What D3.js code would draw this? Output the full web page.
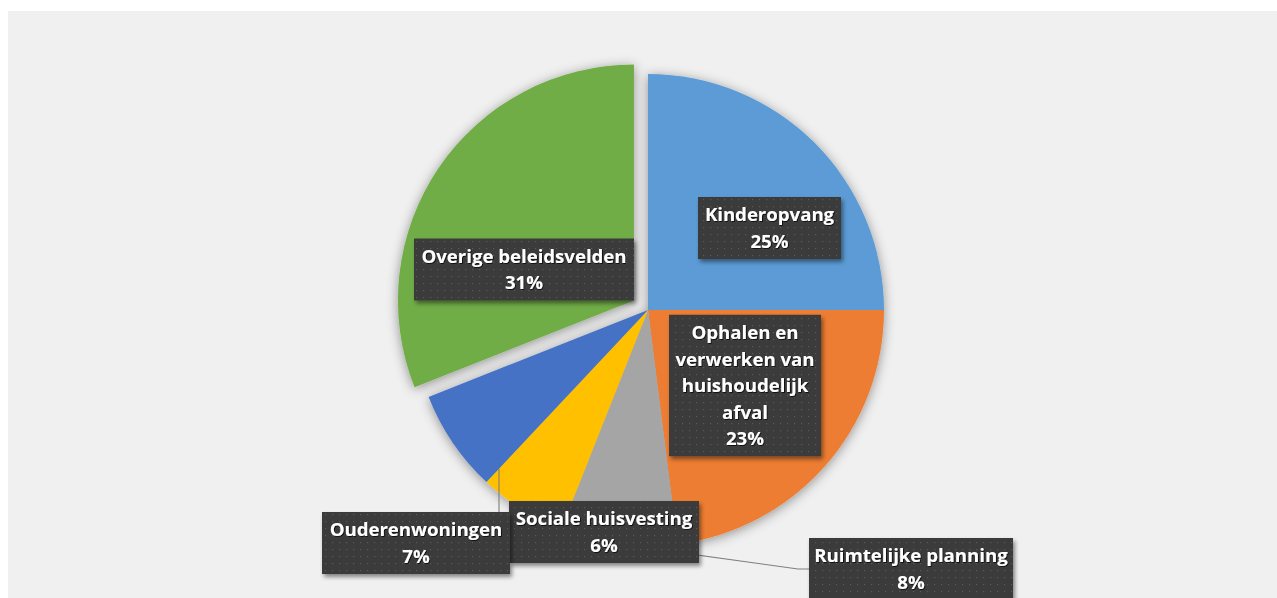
<!DOCTYPE html>
<html><head><meta charset="utf-8">
<script src="https://cdn.jsdelivr.net/npm/d3@7/dist/d3.min.js"></script>
<style>
html,body{margin:0;padding:0;background:#fff;overflow:hidden;}
svg{display:block;}
</style></head><body>
<svg id="chart" width="1277" height="598"></svg>
<script>
// Uitgaven per beleidsveld (aandeel in procenten)
const categories = [
  "Kinderopvang",
  "Ophalen en verwerken van huishoudelijk afval",
  "Ruimtelijke planning",
  "Sociale huisvesting",
  "Ouderenwoningen",
  "Overige beleidsvelden"
];
const values = [25, 23, 8, 6, 7, 31];
const colors = ["#5B9BD5", "#ED7D31", "#A5A5A5", "#FFC000", "#4472C4", "#70AD47"];
const explodedSlices = ["Overige beleidsvelden"];

// ---- layout ----
const W = 1277, H = 598;
const cx = 648, cy = 310, radius = 236, explodeDist = 17;
const fontSize = 18.6, lineH = 26.5, padY = 4.5;

// label boxes: centre and width of each callout
const labelLayout = {
  "Kinderopvang":                                  {x: 769.5, y: 228,   w: 143},
  "Ophalen en verwerken van huishoudelijk afval":  {x: 745,   y: 385.5, w: 152},
  "Ruimtelijke planning":                          {x: 911,   y: 569,   w: 204},
  "Sociale huisvesting":                           {x: 604,   y: 532,   w: 190},
  "Ouderenwoningen":                               {x: 416,   y: 543,   w: 188},
  "Overige beleidsvelden":                         {x: 524,   y: 269.5, w: 220}
};

const svg = d3.select("#chart");
const defs = svg.append("defs");

// soft shadow under the pie
const pf = defs.append("filter").attr("id", "pieShadow")
  .attr("x", "-20%").attr("y", "-20%").attr("width", "140%").attr("height", "140%");
pf.append("feDropShadow").attr("dx", 0).attr("dy", 2).attr("stdDeviation", 6)
  .attr("flood-color", "#000").attr("flood-opacity", 0.4);

// callout box shadow
const bf = defs.append("filter").attr("id", "boxShadow")
  .attr("x", "-20%").attr("y", "-20%").attr("width", "140%").attr("height", "140%");
bf.append("feDropShadow").attr("dx", 2).attr("dy", 3).attr("stdDeviation", 2)
  .attr("flood-color", "#000").attr("flood-opacity", 0.45);

// text shadow
const tf = defs.append("filter").attr("id", "textShadow")
  .attr("x", "-10%").attr("y", "-30%").attr("width", "120%").attr("height", "160%");
tf.append("feDropShadow").attr("dx", 0.8).attr("dy", 0.8).attr("stdDeviation", 0.6)
  .attr("flood-color", "#000").attr("flood-opacity", 0.9);

// dotted texture of the callouts
const pat = defs.append("pattern").attr("id", "dots")
  .attr("patternUnits", "userSpaceOnUse").attr("width", 7).attr("height", 7);
pat.append("rect").attr("width", 7).attr("height", 7).attr("fill", "#3b3b3b");
pat.append("rect").attr("x", 3).attr("y", 3).attr("width", 1.2).attr("height", 1.2).attr("fill", "#5a5a5a");

// plot area background
svg.append("rect").attr("x", 8).attr("y", 11).attr("width", W - 8).attr("height", H - 11)
  .attr("fill", "#f0f0f0");

const data = categories.map((c, i) => ({name: c, value: values[i], color: colors[i]}));
const pie = d3.pie().sort(null).value(d => d.value).startAngle(0).endAngle(2 * Math.PI);
const arcs = pie(data);
const arc = d3.arc().innerRadius(0).outerRadius(radius);

function offsetOf(a) {
  if (!explodedSlices.includes(a.data.name)) return [0, 0];
  const mid = (a.startAngle + a.endAngle) / 2;
  return [Math.sin(mid) * explodeDist, -Math.cos(mid) * explodeDist];
}

const pieG = svg.append("g").attr("transform", `translate(${cx},${cy})`)
  .attr("filter", "url(#pieShadow)");
pieG.selectAll("path").data(arcs).join("path")
  .attr("transform", a => `translate(${offsetOf(a)})`)
  .attr("d", arc)
  .attr("fill", a => a.data.color);

// ---- leader lines ----
const leaderG = svg.append("g").attr("fill", "none").attr("stroke", "#7f7f7f").attr("stroke-width", 1.1);
arcs.forEach(a => {
  const L = labelLayout[a.data.name];
  if (a.data.name === "Ruimtelijke planning") {
    const mid = (a.startAngle + a.endAngle) / 2;
    const p0 = [cx + Math.sin(mid) * radius, cy - Math.cos(mid) * radius];
    const left = L.x - L.w / 2;
    leaderG.append("polyline")
      .attr("points", [p0, [left - 11, L.y], [left, L.y]].map(p => p.join(",")).join(" "));
  }
  if (a.data.name === "Ouderenwoningen") {
    const lx = L.x + 83;
    const ang = a.startAngle;
    const t = (lx - cx) / Math.sin(ang);
    const yTop = cy - t * Math.cos(ang);
    leaderG.append("line").attr("x1", lx).attr("x2", lx)
      .attr("y1", yTop).attr("y2", L.y - 31);
  }
});

// ---- callouts ----
const labelG = svg.append("g");
const measure = svg.append("text").attr("font-family", "'Open Sans', sans-serif")
  .attr("font-weight", 700).attr("font-size", fontSize).attr("visibility", "hidden");
function textWidth(s) { measure.text(s); return measure.node().getComputedTextLength(); }

function wrap(name, maxW) {
  const words = name.split(" ");
  const lines = [];
  let cur = "";
  words.forEach(w => {
    const test = cur ? cur + " " + w : w;
    if (cur && textWidth(test) > maxW) { lines.push(cur); cur = w; }
    else cur = test;
  });
  if (cur) lines.push(cur);
  return lines;
}

arcs.forEach(a => {
  const L = labelLayout[a.data.name];
  const lines = wrap(a.data.name, L.w - 2).concat([a.data.value + "%"]);
  const h = lines.length * lineH + 2 * padY;
  const g = labelG.append("g");
  g.append("rect")
    .attr("x", L.x - L.w / 2).attr("y", L.y - h / 2)
    .attr("width", L.w).attr("height", h)
    .attr("fill", "url(#dots)")
    .attr("filter", "url(#boxShadow)");
  const firstBase = L.y - h / 2 + padY + lineH / 2 + 6.5;
  g.append("text")
    .attr("font-family", "'Open Sans', sans-serif")
    .attr("font-weight", 700).attr("font-size", fontSize)
    .attr("fill", "#ffffff").attr("text-anchor", "middle")
    .attr("filter", "url(#textShadow)")
    .selectAll("tspan").data(lines).join("tspan")
    .attr("x", L.x).attr("y", (d, i) => firstBase + i * lineH)
    .text(d => d);
});
measure.remove();
</script>
</body></html>
